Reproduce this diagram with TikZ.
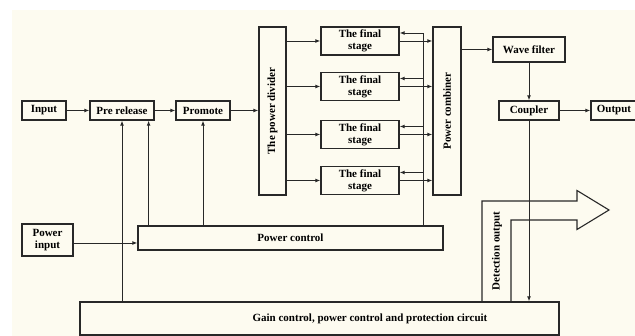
\documentclass[tikz,border=0pt]{standalone}
\usepackage{fontspec}
\setmainfont{Liberation Serif}
\usetikzlibrary{arrows.meta}
\definecolor{bgcream}{RGB}{253,251,240}
\definecolor{linec}{RGB}{40,40,40}
\tikzset{
  box/.style={draw=linec, line width=1.2pt, inner sep=0pt, align=center,
    font=\fontsize{11}{12}\selectfont\bfseries, text=black},
  lbl/.style={inner sep=0pt, align=center, font=\fontsize{11}{12}\selectfont\bfseries, text=black},
  arr/.style={draw=linec, line width=0.9pt, -{Latex[length=5pt,width=3.8pt]}},
  ln/.style={draw=linec, line width=1pt},
  shp/.style={draw=linec, line width=1.1pt}
}
\begin{document}
\begin{tikzpicture}[x=1pt,y=-1pt]
\useasboundingbox (0,0) rectangle (635,336);
\clip (0,0) rectangle (635,336);
\fill[bgcream] (12,10) rectangle (635,336);

% nodes
\node[box, minimum width=44pt, minimum height=19pt] (in) at (44,110.5) {Input};
\node[box, minimum width=64pt, minimum height=19pt] (pre) at (122,110.5) {Pre release};
\node[box, minimum width=54pt, minimum height=19pt] (prom) at (203,110.5) {Promote};
\node[box, minimum width=27pt, minimum height=168pt] (div) at (272.5,111) {};
\node[lbl, rotate=90] (divt) at (272.5,111) {The power divider};
\node[box, minimum width=78pt, minimum height=28pt] (f1) at (360,41) {The final\\stage};
\node[box, minimum width=78pt, minimum height=28pt] (f2) at (360,86.5) {The final\\stage};
\node[box, minimum width=78pt, minimum height=28pt] (f3) at (360,134.5) {The final\\stage};
\node[box, minimum width=78pt, minimum height=28pt] (f4) at (360,180.5) {The final\\stage};
\node[box, minimum width=28pt, minimum height=168pt] (comb) at (447,111) {};
\node[lbl, rotate=90] (combt) at (447,111) {Power combiner};
\node[box, minimum width=72pt, minimum height=25pt] (wf) at (529,49.5) {Wave filter};
\node[box, minimum width=60pt, minimum height=19pt] (coup) at (529,110.5) {Coupler};
\node[box, minimum width=46pt, minimum height=19pt] (out) at (614,110.5) {Output};
\node[box, minimum width=51pt, minimum height=32pt] (pin) at (47.5,240) {Power\\input};
\node[box, minimum width=305pt, minimum height=24pt] (pc) at (290.5,238) {Power control};
\node[box, minimum width=479pt, minimum height=33pt] (gc) at (319.5,318.5) {};
\node[lbl] (gct) at (370,318.5) {Gain control, power control and protection circuit};

% detection output big arrow
\draw[shp] (482,302) -- (482,201) -- (577,201) -- (577,190.5) -- (609,210)
  -- (577,229.5) -- (577,220) -- (511,220) -- (511,302);
\node[lbl, rotate=90] (dett) at (497,251) {Detection output};

% main chain
\draw[arr] (in.east) -- (pre.west);
\draw[arr] (pre.east) -- (prom.west);
\draw[arr] (prom.east) -- (prom.east -| div.west);
\foreach \f in {f1,f2,f3,f4}{
  \draw[arr] (\f.west -| div.east) -- (\f.west);
  \draw[arr] (\f.east) -- (\f.east -| comb.west);
}
\draw[arr] (wf.west -| comb.east) -- (wf.west);
\draw[arr] (wf.south) -- (coup.north);
\draw[arr] (coup.east) -- (out.west);
\draw[arr] (coup.south) -- (coup.south |- gc.north);

% feedback from power control to final stages
\coordinate (fb) at (423,33);
\coordinate (f1b) at ([yshift=8pt]f1.east);
\coordinate (f2b) at ([yshift=8pt]f2.east);
\coordinate (f3b) at ([yshift=8pt]f3.east);
\coordinate (f4b) at ([yshift=8pt]f4.east);
\draw[ln] (pc.north -| fb) -- (fb |- f1b);
\draw[arr] (fb |- f1b) -- (f1b);
\draw[arr] (fb |- f2b) -- (f2b);
\draw[arr] (fb |- f3b) -- (f3b);
\draw[arr] (fb |- f4b) -- (f4b);

% control lines
\coordinate (pre2) at ([xshift=-6pt]pre.south east);
\draw[arr] (gc.north -| pre.south) -- (pre.south);
\draw[arr] (pc.north -| pre2) -- (pre2);
\draw[arr] (pc.north -| prom.south) -- (prom.south);
\coordinate (pinA) at ([yshift=-3pt]pin.east);
\draw[arr] (pinA) -- (pinA -| pc.west);
\end{tikzpicture}
\end{document}
